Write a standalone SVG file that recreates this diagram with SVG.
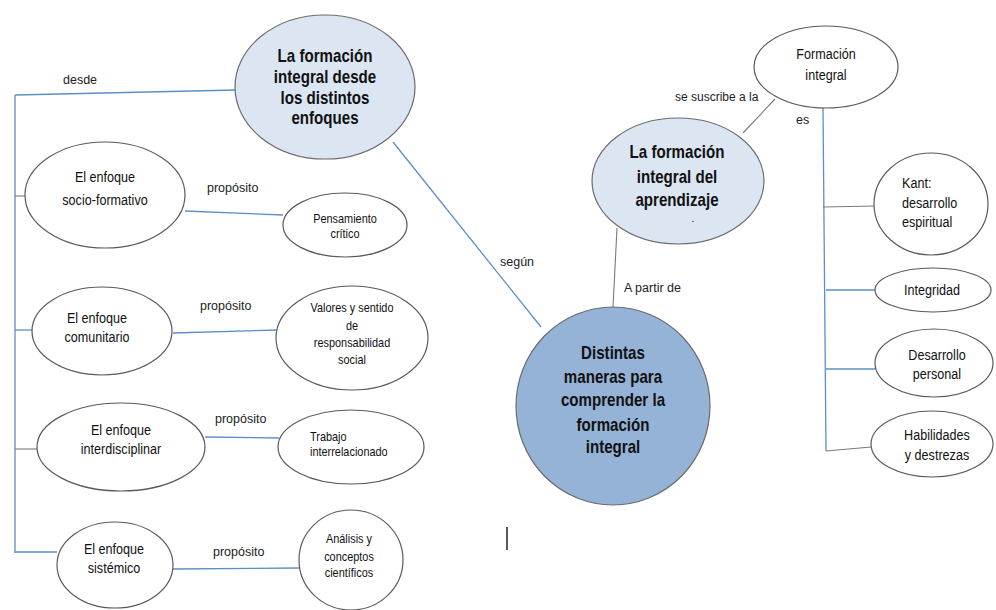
<svg xmlns="http://www.w3.org/2000/svg" width="996" height="610" viewBox="0 0 996 610">
<style>
.n{fill:#ffffff;stroke:#5a5a5a;stroke-width:1.2}
.lb{fill:#dce6f2;stroke:#6b6b6b;stroke-width:1.2}
.db{fill:#95b3d7;stroke:#6b6b6b;stroke-width:1.2}
.c{stroke:#5b8fc9;stroke-width:1.3;fill:none}
.g{stroke:#7a7a7a;stroke-width:1.1;fill:none}
.t{font-family:"Liberation Sans",Arial,sans-serif;font-size:15px;fill:#111;text-anchor:middle}
.s{font-family:"Liberation Sans",Arial,sans-serif;font-size:13px;fill:#111;text-anchor:middle}
.r{font-family:"Liberation Sans",Arial,sans-serif;font-size:15px;fill:#111;text-anchor:middle}
.b{font-family:"Liberation Sans",Arial,sans-serif;font-size:18px;font-weight:bold;fill:#111;text-anchor:middle}
.l{font-family:"Liberation Sans",Arial,sans-serif;font-size:12.5px;fill:#222}
</style>
<rect width="996" height="610" fill="#ffffff"/>
<g id="connectors">
<line class="c" x1="15" y1="95" x2="236" y2="90"/>
<line class="c" x1="15" y1="95" x2="15" y2="553"/>
<line class="g" x1="15" y1="196" x2="25" y2="196"/>
<line class="c" x1="15" y1="330" x2="32" y2="330"/>
<line class="g" x1="15" y1="449" x2="37" y2="449"/>
<line class="c" x1="15" y1="552" x2="57" y2="552"/>
<line class="c" x1="185" y1="211" x2="283" y2="215"/>
<line class="c" x1="173" y1="333" x2="277" y2="330"/>
<line class="c" x1="205" y1="437" x2="279" y2="438"/>
<line class="c" x1="173" y1="569" x2="299" y2="568"/>
<line class="c" x1="393" y1="142" x2="541" y2="327"/>
<line class="g" x1="617" y1="228" x2="613" y2="307"/>
<line class="g" x1="743" y1="133" x2="775" y2="99"/>
<line class="c" x1="823" y1="107" x2="826" y2="451"/>
<line class="g" x1="823" y1="207" x2="875" y2="206"/>
<line class="c" x1="826" y1="290" x2="876" y2="290"/>
<line class="c" x1="826" y1="369" x2="875" y2="369"/>
<line class="g" x1="826" y1="451" x2="871" y2="447"/>
<line x1="507" y1="527" x2="507" y2="550" stroke="#222" stroke-width="1.5"/>
<text class="l" x="63" y="84">desde</text>
<text class="l" x="207" y="192">propósito</text>
<text class="l" x="200" y="310">propósito</text>
<text class="l" x="215" y="423">propósito</text>
<text class="l" x="213" y="556">propósito</text>
<text class="l" x="500" y="266">según</text>
<text class="l" x="624" y="292">A partir de</text>
<text class="l" x="675" y="101" style="font-size:12px">se suscribe a la</text>
<text class="l" x="796" y="124">es</text>
</g>
<g id="n-enfoques">
<ellipse class="lb" cx="325" cy="87" rx="90" ry="72"/>
<text class="b" transform="translate(325 0) scale(0.84 1)"><tspan x="0" y="62">La formación</tspan><tspan x="0" y="83">integral desde</tspan><tspan x="0" y="104">los distintos</tspan><tspan x="0" y="124">enfoques</tspan></text>
</g>
<g id="n-socio">
<ellipse class="n" cx="105" cy="195" rx="80" ry="53"/>
<text class="t" transform="translate(105 0) scale(0.84 1)"><tspan x="0" y="182">El enfoque</tspan><tspan x="0" y="205">socio-formativo</tspan></text>
</g>
<g id="n-pensamiento">
<ellipse class="n" cx="345" cy="225" rx="62" ry="32"/>
<text class="s" transform="translate(345 0) scale(0.84 1)"><tspan x="0" y="223">Pensamiento</tspan><tspan x="0" y="238">crítico</tspan></text>
</g>
<g id="n-comunitario">
<ellipse class="n" cx="102" cy="331" rx="70" ry="44"/>
<text class="t" transform="translate(97 0) scale(0.84 1)"><tspan x="0" y="323">El enfoque</tspan><tspan x="0" y="342">comunitario</tspan></text>
</g>
<g id="n-valores">
<ellipse class="n" cx="352" cy="338" rx="76" ry="52"/>
<text class="s" transform="translate(352 0) scale(0.84 1)"><tspan x="0" y="312">Valores y sentido</tspan><tspan x="0" y="330">de</tspan><tspan x="0" y="347">responsabilidad</tspan><tspan x="0" y="364">social</tspan></text>
</g>
<g id="n-interdisciplinar">
<ellipse class="n" cx="121" cy="447" rx="84" ry="44"/>
<text class="t" transform="translate(121 0) scale(0.84 1)"><tspan x="0" y="435">El enfoque</tspan><tspan x="0" y="454">interdisciplinar</tspan></text>
</g>
<g id="n-trabajo">
<ellipse class="n" cx="351" cy="447" rx="73" ry="37"/>
<text class="s" style="text-anchor:start" transform="translate(310 0) scale(0.84 1)"><tspan x="0" y="441">Trabajo</tspan><tspan x="0" y="456">interrelacionado</tspan></text>
</g>
<g id="n-sistemico">
<ellipse class="n" cx="115" cy="565" rx="58" ry="43"/>
<text class="t" transform="translate(114 0) scale(0.84 1)"><tspan x="0" y="554">El enfoque</tspan><tspan x="0" y="573">sistémico</tspan></text>
</g>
<g id="n-analisis">
<ellipse class="n" cx="351" cy="560" rx="52" ry="50"/>
<text class="s" transform="translate(349 0) scale(0.84 1)"><tspan x="0" y="543">Análisis y</tspan><tspan x="0" y="561">conceptos</tspan><tspan x="0" y="577">científicos</tspan></text>
</g>
<g id="n-distintas">
<ellipse class="db" cx="613" cy="406" rx="97" ry="99"/>
<text class="b" transform="translate(613 0) scale(0.84 1)"><tspan x="0" y="359">Distintas</tspan><tspan x="0" y="383">maneras para</tspan><tspan x="0" y="406">comprender la</tspan><tspan x="0" y="431">formación</tspan><tspan x="0" y="453">integral</tspan></text>
</g>
<g id="n-aprendizaje">
<ellipse class="lb" cx="678" cy="181" rx="86" ry="63"/>
<text class="b" transform="translate(677 0) scale(0.84 1)"><tspan x="0" y="158">La formación</tspan><tspan x="0" y="183">integral del</tspan><tspan x="0" y="206">aprendizaje</tspan></text>
<text class="s" x="693" y="222" style="font-size:10px">.</text>
</g>
<g id="n-formacion">
<ellipse class="n" cx="826" cy="67" rx="72" ry="41"/>
<text class="r" transform="translate(826 0) scale(0.84 1)"><tspan x="0" y="59">Formación</tspan><tspan x="0" y="80">integral</tspan></text>
</g>
<g id="n-kant">
<ellipse class="n" cx="931" cy="204" rx="57" ry="51"/>
<text class="r" style="text-anchor:start" transform="translate(902 0) scale(0.84 1)"><tspan x="0" y="188">Kant:</tspan><tspan x="0" y="208">desarrollo</tspan><tspan x="0" y="227">espiritual</tspan></text>
</g>
<g id="n-integridad">
<ellipse class="n" cx="933" cy="290" rx="58" ry="22"/>
<text class="r" transform="translate(932 0) scale(0.84 1)" x="0" y="295">Integridad</text>
</g>
<g id="n-desarrollo">
<ellipse class="n" cx="934" cy="363" rx="59" ry="34"/>
<text class="r" transform="translate(937 0) scale(0.84 1)"><tspan x="0" y="360">Desarrollo</tspan><tspan x="0" y="379">personal</tspan></text>
</g>
<g id="n-habilidades">
<ellipse class="n" cx="932" cy="444" rx="61" ry="33"/>
<text class="r" transform="translate(937 0) scale(0.84 1)"><tspan x="0" y="440">Habilidades</tspan><tspan x="0" y="460">y destrezas</tspan></text>
</g>
</svg>
